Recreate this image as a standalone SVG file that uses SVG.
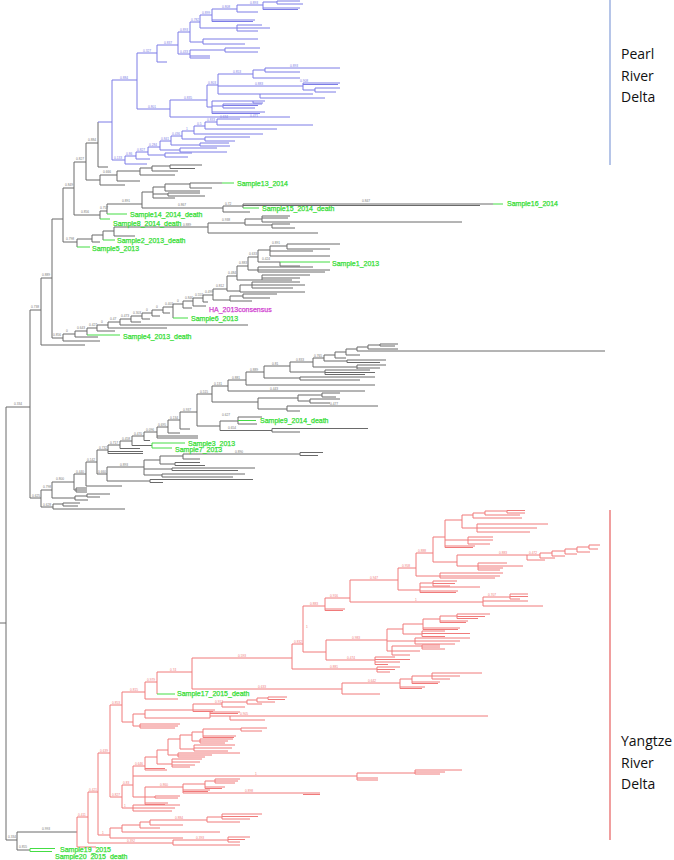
<svg xmlns="http://www.w3.org/2000/svg" width="674" height="860" viewBox="0 0 674 860">
<style>
.k{fill:none;stroke:#6a6a6a;stroke-width:1}
.b{fill:none;stroke:#7c7ce6;stroke-width:1}
.r{fill:none;stroke:#f07a7a;stroke-width:1}
.g{fill:none;stroke:#44dd44;stroke-width:1}
.lab{font-family:"Liberation Sans",Arial,sans-serif;font-size:7px;fill:#33dd33;stroke:#33dd33;stroke-width:0.25}
.ha{fill:#d040d0;stroke:#d040d0}
.reg{font-family:"Open Sans","Liberation Sans",sans-serif;font-size:14px;fill:#111}
.s{font-family:"Liberation Sans",Arial,sans-serif;font-size:3.2px}
.sk{fill:#777}.sb{fill:#7c7ce6}.sr{fill:#f07a7a}
</style>
<rect width="674" height="860" fill="#fff"/>
<g id="connectors">
<path class="k" d="M0 623H6M6 407V840M6 407H30M6 840H17M17 832V850M17 832H77M17 850H30
M30 310V498M30 310H41M41 278V345M41 345H85M41 278H52M52 219V338M52 219H63M63 188V242M63 188H74M74 162V215M74 162H86M86 143V180M86 143H98M98 122V167M98 167H108
M86 180H100M100 175V185M100 175H117M100 185H125M117 171V181M117 171H140M117 181H140M140 168V175M140 168H152M140 175H175M152 166V171M152 166H170M152 171H178M170 165V168.5M170 165H202M170 168.5H195"/>
<path class="k" d="M74 215H100M100 211V219M100 211H107M107 204V214M107 204H142M142 192V208M142 192H153M153 187V198M153 187H165M165 184V191M165 184H190M190 183V188M190 183H222M190 188H212M165 191H200M153 194H168M168 193V196M168 193H200M168 196H205M153 198H175M142 208H223M223 206V212M223 206H243M243 204V208M243 204H493M243 205.5H480M223 212H250"/>
<path class="k" d="M63 242H77M77 239V247M77 239H92M92 235V242M92 242H100M92 235H103M103 231V240M103 231H114M114 227V236M114 236H135M114 227H208M208 223V233M208 233H318M208 223H245M245 219V225M245 219H262M262 216V222M262 216H290M262 218H288M262 222H462M245 225H272M272 224V228M272 224H290M272 228H295"/>
<path class="k" d="M52 338H63M63 334V341M63 341H100M63 334H75M75 331V337M75 337H98M75 331H87M87 328V335M87 328H97M97 325V331M97 331H115M97 325H108M108 322V328M108 328H167M108 322H120M120 319V325M120 325H248M120 319H131M131 316V322M131 322H141M131 316H142M142 313V319M142 319H150M142 313H152M152 310V316M152 316H160M152 310H163M163 307V313M163 313H170M163 307H173M173 304V318M173 304H183M183 301V308M183 308H192M183 301H193M193 298V306M193 306H206M193 298H203M203 295V302M203 302H208M203 295H213M213 289V300M213 300H230M230 296V301M230 301H252M230 296H243M243 294V298M243 294H277M243 298H270M213 289H227
M227 276V291M227 291H240M240 285V292M240 285H252M252 282V288M252 282H300M252 285H305M252 288H293M240 292H305M227 276H237M237 266V280M237 280H262M262 275V280M262 275H310M262 278H300M262 280H292M237 266H248M248 257V270M248 270H258M258 267V272M258 267H313M258 270H330M258 272H325M248 257H258M258 250V262M258 262H280M280 262V266M280 266H300M258 250H270M270 246V256M270 246H287M287 244V249M287 244H340M287 249H330M270 251H313M270 256H330"/>
<path class="k" d="M30 498H41M41 490V507M41 507H53M53 504V509M53 504H63M63 503V506M63 503H80M63 506H78M53 509H125M41 490H52M52 482V498M52 498H75M75 496V500M75 496H87M87 494V497M87 494H110M87 497H100M75 500H88M52 482H74M74 474V490M74 490H76M76 488V492M76 488H87M76 490H87M76 492H87M74 474H86M86 462V486M86 486H122M86 462H97
M97 450V474M97 474H107M107 467V481M107 467H144M144 460V475M144 460H160M160 456V464M160 456H183M183 454V459M183 454H300M300 452.5V455.5M300 452.5H323M300 455.5H318M183 459H200M160 464H175M175 462.5V465.5M175 462.5H200M175 465.5H205M144 469H172M172 468V470.5M172 468H255M172 470.5H238M144 475H162M162 474V477M162 474H245M162 477H233M107 481H150M150 479.5V482.5M150 479.5H253M150 482.5H163"/>
<path class="k" d="M97 450H108M108 445V453.5M108 451.5H143M108 453.5H143M108 445H120M120 441V448.5M120 448.5H140M120 441H132M132 436V445.5M132 445.5H152M132 436H144M144 432V440.5M144 440.5H150M144 432H157M157 427V438M157 436H198M157 438H198M157 427H168M168 420V433M168 433H180M168 420H180M180 412V429M180 429H190M180 412H197M197 394V426M197 426H220M197 394H212
M220 421V430.5M220 421H238M238 417V424M238 417H262M238 424H257M220 430.5H272M272 428.5V432M272 428.5H368M272 432H300
M212 386V402M212 402H258M258 398V409M258 398H298M298 395V401M298 395H322M322 393V397M322 393H340M322 397H336M298 401H310M310 399V403M310 399H340M310 403H330M258 409H287M287 406V411M287 406H378M287 411H300
M212 386H228M228 380V391M228 391H365M228 380H246M246 372V385M246 385H375M246 372H264M264 366V378M264 378H300M300 377V380M300 377H375M300 380H360M264 366H290M290 362V372M290 372H325M325 370V374.5M325 370H370M325 372.5H375M325 374.5H365M290 362H313M313 358V367M313 367H357M357 365V369M357 365H386M357 368H380M313 358H324M324 355V361M324 361H347M347 360V362.5M347 360H386M347 362.5H380M324 355H335M335 352V358M335 358H346M335 352H346M346 349V355M346 355H360M346 349H357M357 347V351M357 351H605M357 347H368M368 345V349M368 349H398M368 345H380M380 344V346M380 344H398M380 346H395"/>
<path class="b" d="M98 122H112M112 80V160M112 160H125M125 156V164M125 164H147M125 156H136M136 152V159M136 159H150M136 152H148M148 147V155M148 155H165M165 153V157M165 153H192M165 157H188M148 147H160M160 141V150M160 150H180M180 148V152M180 148H217M180 152H227M160 141H171M171 136V145M171 145H200M200 143V146M200 143H229M200 146H230M171 136H182M182 131V139M182 139H205M205 137V141M205 137H250M205 141H235M182 131H194M194 126V134M194 134H263M194 126H205M205 122V129M205 129H277M205 122H217M217 119V125M217 119H240M217 125H313"/>
<path class="b" d="M112 80H137M137 53V109M137 109H170M170 100V117M170 117H290M170 100H207M207 85V107M207 85H218M218 74V94M218 74H253M253 70V78M253 70H265M265 68V72M265 68H340M265 72H300M253 78H300M218 86H303M303 83V90M303 83H340M303 84.5H338M303 90H315M315 88V92M315 88H340M315 92H336M218 94H260M260 94V98M260 94H313M260 98H325M207 107H212M212 101V113.5M212 101H253M253 101V103M253 101H265M253 103H263M212 106H223M223 104V108M223 104H262M223 105.5H258M223 108H255M212 112H265M212 113.5H260
M137 53H157M157 45V62M157 62H167M157 45H178M178 32V54M178 54H190M190 50V58M190 50H225M225 48V52M225 48H260M225 52H258M190 56H210M190 58H210M178 32H190M190 22V42M190 42H203M203 39V44M203 39H258M203 44H245M190 22H200M200 15V28M200 28H237M237 25V31M237 25H262M237 28H270M237 31H258M200 15H212M212 9V21.5M212 20H255M212 21.5H253M212 9H237M237 5V12M237 12H258M237 5H263M263 2V9.5M263 2H277M277 1V4M277 1H300M277 4H303M263 8H300M263 9.5H298"/>
<path class="r" d="M77 817V847M77 847H96M77 817H88M88 792V843M88 843H173M173 840V845M173 840H228M228 837V842M228 837H250M228 839.5H245M228 842H240M173 845H240M88 792H98M98 753V835M98 835H110M98 753H110
M110 828V838M110 828H122M122 825V832M122 825H140M140 822V828M140 822H150M150 820V825M150 820H207M207 817V822M207 817H222M222 814V819M222 814H262M222 816.5H258M222 819H250M207 822H240M150 825H183M140 828H160M122 832H220M110 838H183
M110 705V797M110 705H122M110 797H122M122 785V808M122 808H133M133 805V811M133 805H180M133 808H175M133 811H172M122 785H133
M133 766V797M133 766H145M133 776H357M357 773V780M357 773H415M415 770V774M415 770H462M415 772H445M415 774H440M357 778H378M357 780H378M133 797H145
M145 787V804.5M145 787H183M183 784V793M183 784H205M205 781V788.5M205 781H215M215 779V783M215 779H240M215 781H238M215 783H235M205 787H225M205 788.5H222M183 790H210M183 791.5H208M183 793H320M303 794.5H320M145 797H155M155 796V798M155 796H180M155 798H178M145 803H168M145 804.5H165
M145 757V770M145 770H167M145 768.5H165M145 757H157M157 750V764M157 764H172M172 759V767M172 759H202M172 762H200M172 765H195M172 767H190M157 750H168M168 739V755M168 755H178M178 753V757M178 753H240M178 755H212M178 757H205M168 739H180M180 735V749M180 749H194M194 745V751M194 745H235M194 748H232M194 751H228M180 735H192M192 732V741M192 741H200M200 739V743M200 739H233M200 741H228M200 743H225M192 732H203M203 729V737.5M203 736H236M203 737.5H234M203 729H241M241 728V731M241 728H267M241 731H262"/>
<path class="r" d="M122 692V722M122 692H145M145 682V699M145 699H178M145 682H157M157 672V694M157 672H192M192 658V689M192 658H292M192 689H342M342 683V694M342 694H380M342 683H400M400 679V688.5M400 679H412M412 676V683.5M412 676H432M432 673V679M432 673H482M432 676H460M432 679H450M412 682H440M412 683.5H438M400 687H425M400 688.5H422
M122 722H133M133 714V726M133 714H145M133 726H140M140 724V728M140 724H180M140 726H178M140 728H175M145 710V718M145 718H210M210 712V718M210 712H240M210 713.5H238M210 716H230M230 716V720M230 716H488M230 720H265M145 710H193M193 704V711.5M193 710H215M193 711.5H213M193 704H222M222 702V707M222 707H245M222 702H247M247 700V704M247 704H262M247 700H257M257 698V702M257 702H275M257 698H268M268 697V699.5M268 697H287M268 699.5H285"/>
<path class="r" d="M292 644V669M292 669H377M377 667V672M377 667H400M377 669.5H395M377 672H390M292 644H303M303 606V652M303 652H326M326 640V660M326 660H375M375 657V664.5M375 657H395M375 659.5H410M375 662H400M375 664.5H388M326 640H387
M387 629V651M387 629H403M403 624V634M403 624H423M423 619V629.5M423 619H440M440 616V622.5M440 616H457M457 614V618.5M457 614H490M457 616.5H485M457 618.5H478M440 621H468M440 622.5H466M423 628H460M423 629.5H458M403 634H422M422 631V636.5M422 631H445M422 633.5H470M422 636.5H445M387 641H415M415 638V644M415 638H470M415 641H460M415 644H455M387 651H392M392 646V655M392 646H422M422 645V649M422 645H440M422 647H440M422 649H445M392 651H420M392 655H410
M303 606H325M325 598V610.5M325 609H345M325 610.5H343M325 598H350M350 580V602M350 602H483M483 597V606M483 597H510M510 594V599M510 594H528M510 596.5H528M510 599H520M483 601H528M483 606H543M350 580H398
M398 568V590M398 590H420M420 583V592.5M420 583H433M433 581V586M433 581H457M433 583.5H455M433 586H450M420 587H480M420 591H458M420 592.5H456M398 568H416M416 553V576M416 576H440M440 573V578M440 573H503M440 576H500M440 578H495M416 553H433
M433 537V562M433 537H445M433 562H457M445 520V547.5M445 520H462M445 540H468M468 537V544M468 537H493M468 540H493M468 544H490M445 546H475M445 547.5H473M462 515V528M462 515H473M473 513V518M473 513H485M485 511V515M485 511H507M507 510.5V513M507 510.5H525M507 513H525M485 515H520M473 518H522M462 528H477M477 524V532M477 524H548M477 528H537M477 532H530
M457 555V566M457 555H527M527 555V560M527 560H545M527 555H540M540 553V558M540 558H555M540 553H552M552 551V556M552 556H565M552 551H565M565 549V554M565 554H577M565 549H577M577 547V552M577 552H590M577 547H589M589 545V549M589 545H600M589 549H598M457 566H478M478 563V570M478 563H507M478 566H523M478 568H503M478 570H500"/>
<path class="g" d="M100 219H110M107 214H127M222 183H234M493 204H503M243 208H259M103 240H115M77 247H90M87 335H120M173 318H188M280 262H330M238 420.5H256M152 443V448M152 443H185M152 448H172M157 694H175M30 848.5V851.5M30 848.5H55M30 851.5H52"/>
<path fill="none" stroke="#8ea6dc" stroke-width="1.3" d="M610 0V165"/>
<path fill="none" stroke="#e86a6a" stroke-width="1.3" d="M610 510V840"/>
</g>
<g id="support" class="s">
<text class="sk" x="14" y="405">0.334</text><text class="sk" x="8" y="838">0.334</text><text class="sk" x="31" y="308">0.738</text><text class="sk" x="42" y="276">0.889</text><text class="sk" x="53" y="336">0.856</text><text class="sk" x="88" y="141">0.884</text><text class="sk" x="76" y="160">0.827</text><text class="sk" x="103" y="173">0.666</text><text class="sk" x="81" y="213">0.856</text><text class="sk" x="65" y="186">0.849</text><text class="sk" x="100" y="209">0.757</text><text class="sk" x="122" y="202">0.891</text><text class="sk" x="178" y="206">0.867</text><text class="sk" x="362" y="202">0.847</text><text class="sk" x="225" y="205">0.72</text><text class="sk" x="66" y="240">0.798</text><text class="sk" x="183" y="226">0.889</text><text class="sk" x="222" y="221">0.938</text><text class="sk" x="19" y="848">0.855</text><text class="sk" x="42" y="830">0.993</text>
<text class="sk" x="66" y="332">0</text><text class="sk" x="77" y="329">0.643</text><text class="sk" x="89" y="326">0.427</text><text class="sk" x="101" y="323">0</text><text class="sk" x="110" y="320">0.47</text><text class="sk" x="121" y="317">0.473</text><text class="sk" x="133" y="314">0.303</text><text class="sk" x="146" y="311">0</text><text class="sk" x="156" y="308">0</text><text class="sk" x="165" y="305">0.403</text><text class="sk" x="177" y="302">0</text><text class="sk" x="185" y="299">0.846</text><text class="sk" x="195" y="296">0.553</text><text class="sk" x="205" y="293">0.499</text><text class="sk" x="216" y="287">0.812</text><text class="sk" x="228" y="274">0.484</text><text class="sk" x="239" y="264">0.883</text><text class="sk" x="249" y="255">0.633</text><text class="sk" x="262" y="260">0.424</text><text class="sk" x="272" y="244">0.891</text>
<text class="sk" x="32" y="497">0.625</text><text class="sk" x="43" y="488">0.798</text><text class="sk" x="43" y="506">0.628</text><text class="sk" x="56" y="480">0.800</text><text class="sk" x="76" y="473">0.440</text><text class="sk" x="87" y="461">0.142</text><text class="sk" x="99" y="449">0.732</text><text class="sk" x="98" y="473">0.660</text><text class="sk" x="120" y="466">0.893</text><text class="sk" x="110" y="444">0.717</text><text class="sk" x="122" y="440">0.458</text><text class="sk" x="134" y="435">0.470</text><text class="sk" x="146" y="431">0.096</text><text class="sk" x="158" y="426">0.695</text><text class="sk" x="170" y="419">0.134</text><text class="sk" x="183" y="411">0.937</text><text class="sk" x="200" y="393">0.515</text><text class="sk" x="214" y="385">0.131</text><text class="sk" x="232" y="379">0.881</text><text class="sk" x="250" y="371">0.889</text><text class="sk" x="272" y="365">0.81</text><text class="sk" x="296" y="361">0.833</text><text class="sk" x="314" y="357">0.765</text><text class="sk" x="235" y="453">0.890</text><text class="sk" x="222" y="416">0.627</text><text class="sk" x="270" y="390">0.443</text><text class="sk" x="330" y="405">0.477</text><text class="sk" x="228" y="429">0.654</text>
<text class="sb" x="120" y="79">0.884</text><text class="sb" x="143" y="52">0.327</text><text class="sb" x="164" y="44">0.837</text><text class="sb" x="148" y="108">0.801</text><text class="sb" x="184" y="99">0.835</text><text class="sb" x="250" y="116.5">0.471</text><text class="sb" x="208" y="84">0.803</text><text class="sb" x="233" y="73">0.853</text><text class="sb" x="290" y="67">0.893</text><text class="sb" x="255" y="85">0.883</text><text class="sb" x="114" y="159">0.133</text><text class="sb" x="126" y="155">0.86</text><text class="sb" x="137" y="151">0.827</text><text class="sb" x="149" y="146">0.284</text><text class="sb" x="161" y="140">0.841</text><text class="sb" x="172" y="135">0.436</text><text class="sb" x="186" y="130">1</text><text class="sb" x="197" y="125">0.5</text><text class="sb" x="207" y="121">0.833</text><text class="sb" x="220" y="118">0.634</text><text class="sb" x="180" y="31">0.893</text><text class="sb" x="191" y="21">0.782</text><text class="sb" x="202" y="14">0.899</text><text class="sb" x="222" y="8">0.808</text><text class="sb" x="250" y="4">0.893</text><text class="sb" x="180" y="53">0.433</text><text class="sb" x="300" y="82">0.908</text>
<text class="sr" x="78" y="816">0.411</text><text class="sr" x="89" y="791">0.421</text><text class="sr" x="100" y="752">0.639</text><text class="sr" x="102" y="834">1</text><text class="sr" x="112" y="704">0.853</text><text class="sr" x="112" y="796">0.827</text><text class="sr" x="130" y="691">0.815</text><text class="sr" x="147" y="681">0.979</text><text class="sr" x="170" y="671">0.74</text><text class="sr" x="238" y="657">0.593</text><text class="sr" x="258" y="688">0.633</text><text class="sr" x="294" y="643">0.832</text><text class="sr" x="306" y="628">1</text><text class="sr" x="310" y="605">0.883</text><text class="sr" x="330" y="597">0.916</text><text class="sr" x="370" y="579">0.947</text><text class="sr" x="402" y="567">0.958</text><text class="sr" x="418" y="552">0.888</text><text class="sr" x="123" y="784">0.83</text><text class="sr" x="135" y="765">0.646</text><text class="sr" x="124" y="807">1</text><text class="sr" x="160" y="786">0.860</text><text class="sr" x="245" y="792">0.898</text><text class="sr" x="255" y="775">1</text><text class="sr" x="127" y="842">0.392</text><text class="sr" x="196" y="839">0.393</text><text class="sr" x="175" y="819">0.884</text><text class="sr" x="347" y="659">0.474</text><text class="sr" x="352" y="639">0.983</text><text class="sr" x="368" y="682">0.642</text><text class="sr" x="499" y="554">0.883</text><text class="sr" x="529" y="554">0.472</text><text class="sr" x="330" y="668">0.881</text><text class="sr" x="415" y="601">1</text><text class="sr" x="488" y="596">0.707</text><text class="sr" x="240" y="715">0.905</text><text class="sr" x="215" y="703">0.917</text>
</g>
<g id="sample13"><text class="lab" x="237" y="186">Sample13_2014</text></g>
<g id="sample16"><text class="lab" x="507" y="206">Sample16_2014</text></g>
<g id="sample15"><text class="lab" x="262" y="210.5">Sample15_2014_death</text></g>
<g id="sample14"><text class="lab" x="130" y="217">Sample14_2014_death</text></g>
<g id="sample8"><text class="lab" x="113" y="225.5">Sample8_2014_death</text></g>
<g id="sample2"><text class="lab" x="117" y="243">Sample2_2013_death</text></g>
<g id="sample5"><text class="lab" x="92" y="250.5">Sample5_2013</text></g>
<g id="sample1"><text class="lab" x="332" y="265.5">Sample1_2013</text></g>
<g id="ha2013"><text class="lab ha" x="209" y="311.5">HA_2013consensus</text></g>
<g id="sample6"><text class="lab" x="191" y="320.5">Sample6_2013</text></g>
<g id="sample4"><text class="lab" x="123" y="338.5">Sample4_2013_death</text></g>
<g id="sample9"><text class="lab" x="260" y="423">Sample9_2014_death</text></g>
<g id="sample3"><text class="lab" x="188" y="445.5">Sample3_2013</text></g>
<g id="sample7"><text class="lab" x="175" y="451.5">Sample7_2013</text></g>
<g id="sample17"><text class="lab" x="177" y="696">Sample17_2015_death</text></g>
<g id="sample19"><text class="lab" x="60" y="851.5">Sample19_2015</text></g>
<g id="sample20"><text class="lab" x="55" y="858.5">Sample20_2015_death</text></g>
<g id="pearl"><text class="reg" x="621" y="59">Pearl</text><text class="reg" x="621" y="81">River</text><text class="reg" x="621" y="102">Delta</text></g>
<g id="yangtze"><text class="reg" x="621" y="746">Yangtze</text><text class="reg" x="621" y="768">River</text><text class="reg" x="621" y="789">Delta</text></g>
</svg>
